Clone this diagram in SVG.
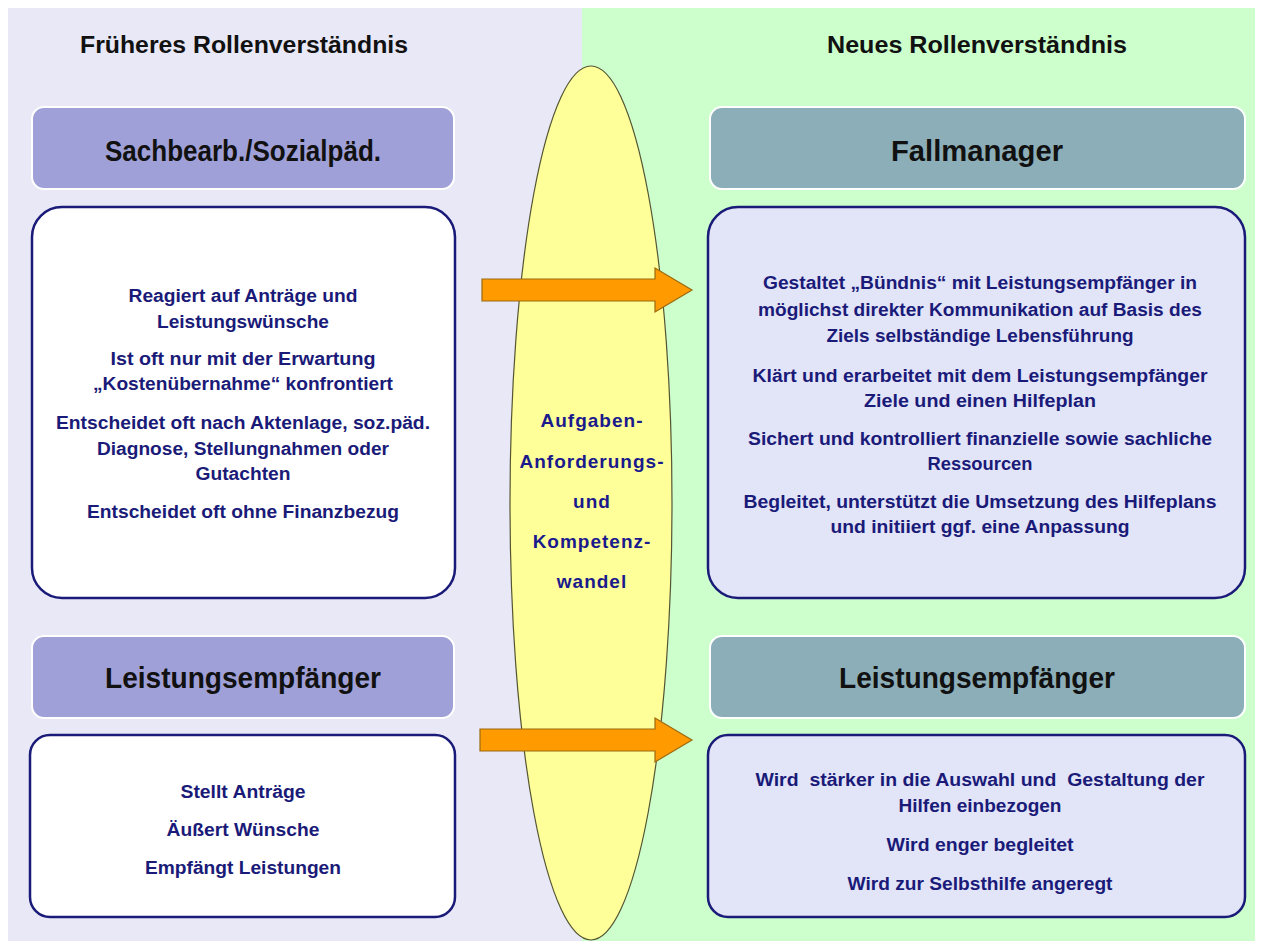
<svg xmlns="http://www.w3.org/2000/svg" width="1262" height="949" viewBox="0 0 1262 949">
<style>
.title{font-family:"Liberation Sans",Arial,sans-serif;font-size:23px;font-weight:bold;fill:#111;text-anchor:middle}
.hdr{font-family:"Liberation Sans",Arial,sans-serif;font-size:30px;font-weight:bold;fill:#111;text-anchor:middle}
.txt{font-family:"Liberation Sans",Arial,sans-serif;font-size:18px;font-weight:bold;fill:#1a1a78;text-anchor:middle}
.mid{font-family:"Liberation Sans",Arial,sans-serif;font-size:19px;font-weight:bold;fill:#1a1a8c;text-anchor:middle;letter-spacing:1px}
.hL{fill:#a0a0d8;stroke:#ffffff;stroke-width:2}
.hR{fill:#8caeb8;stroke:#ffffff;stroke-width:2}
.cL{fill:#ffffff;stroke:#1a1a78;stroke-width:2.5}
.cR{fill:#e2e4f8;stroke:#1a1a78;stroke-width:2.5}
.arrow{fill:#ff9a00;stroke:#9a6a10;stroke-width:1.2}
</style>
<rect x="0" y="0" width="1262" height="949" fill="#ffffff"/>
<rect x="8" y="8" width="574" height="933" fill="#e8e8f6"/>
<rect x="582" y="8" width="673" height="933" fill="#ccffcc"/>
<text class="title" x="244" y="53" textLength="328" lengthAdjust="spacingAndGlyphs">Früheres Rollenverständnis</text>
<text class="title" x="977" y="53" textLength="300" lengthAdjust="spacingAndGlyphs">Neues Rollenverständnis</text>
<g id="ellipse">
<ellipse cx="591" cy="503" rx="81" ry="437" fill="#ffff99" stroke="#555533" stroke-width="1.2"/>
<text class="mid" x="592" y="427">Aufgaben-</text>
<text class="mid" x="592" y="468">Anforderungs-</text>
<text class="mid" x="592" y="508">und</text>
<text class="mid" x="592" y="548">Kompetenz-</text>
<text class="mid" x="592" y="588">wandel</text>
</g>
<g id="connectors">
<path class="arrow" d="M482,279 L655,279 L655,268 L692,290 L655,312 L655,301 L482,301 Z"/>
<path class="arrow" d="M480,729 L655,729 L655,718 L692,740 L655,762 L655,751 L480,751 Z"/>
</g>
<g id="hdr-sach">
<rect class="hL" x="32" y="107" width="422" height="82" rx="12"/>
<text class="hdr" x="243" y="161" textLength="276" lengthAdjust="spacingAndGlyphs">Sachbearb./Sozialpäd.</text>
</g>
<g id="box-sach">
<rect class="cL" x="32" y="207" width="423" height="391" rx="30"/>
<text class="txt" x="243" y="302" textLength="229" lengthAdjust="spacingAndGlyphs">Reagiert auf Anträge und</text>
<text class="txt" x="243" y="328" textLength="172" lengthAdjust="spacingAndGlyphs">Leistungswünsche</text>
<text class="txt" x="243" y="365" textLength="265" lengthAdjust="spacingAndGlyphs">Ist oft nur mit der Erwartung</text>
<text class="txt" x="243" y="390" textLength="300" lengthAdjust="spacingAndGlyphs">„Kostenübernahme“ konfrontiert</text>
<text class="txt" x="243" y="429" textLength="374" lengthAdjust="spacingAndGlyphs">Entscheidet oft nach Aktenlage, soz.päd.</text>
<text class="txt" x="243" y="455" textLength="292" lengthAdjust="spacingAndGlyphs">Diagnose, Stellungnahmen oder</text>
<text class="txt" x="243" y="480" textLength="95" lengthAdjust="spacingAndGlyphs">Gutachten</text>
<text class="txt" x="243" y="518" textLength="312" lengthAdjust="spacingAndGlyphs">Entscheidet oft ohne Finanzbezug</text>
</g>
<g id="hdr-le-alt">
<rect class="hL" x="32" y="636" width="422" height="82" rx="12"/>
<text class="hdr" x="243" y="688" textLength="276" lengthAdjust="spacingAndGlyphs">Leistungsempfänger</text>
</g>
<g id="box-le-alt">
<rect class="cL" x="30" y="735" width="425" height="182" rx="20"/>
<text class="txt" x="243" y="798" textLength="125" lengthAdjust="spacingAndGlyphs">Stellt Anträge</text>
<text class="txt" x="243" y="836" textLength="153" lengthAdjust="spacingAndGlyphs">Äußert Wünsche</text>
<text class="txt" x="243" y="874" textLength="196" lengthAdjust="spacingAndGlyphs">Empfängt Leistungen</text>
</g>
<g id="hdr-fall">
<rect class="hR" x="710" y="107" width="535" height="82" rx="12"/>
<text class="hdr" x="977" y="161" textLength="172" lengthAdjust="spacingAndGlyphs">Fallmanager</text>
</g>
<g id="box-fall">
<rect class="cR" x="708" y="207" width="537" height="391" rx="30"/>
<text class="txt" x="980" y="289" textLength="434" lengthAdjust="spacingAndGlyphs">Gestaltet „Bündnis“ mit Leistungsempfänger in</text>
<text class="txt" x="980" y="316" textLength="444" lengthAdjust="spacingAndGlyphs">möglichst direkter Kommunikation auf Basis des</text>
<text class="txt" x="980" y="342" textLength="307" lengthAdjust="spacingAndGlyphs">Ziels selbständige Lebensführung</text>
<text class="txt" x="980" y="382" textLength="455" lengthAdjust="spacingAndGlyphs">Klärt und erarbeitet mit dem Leistungsempfänger</text>
<text class="txt" x="980" y="407" textLength="232" lengthAdjust="spacingAndGlyphs">Ziele und einen Hilfeplan</text>
<text class="txt" x="980" y="445" textLength="464" lengthAdjust="spacingAndGlyphs">Sichert und kontrolliert finanzielle sowie sachliche</text>
<text class="txt" x="980" y="470" textLength="105" lengthAdjust="spacingAndGlyphs">Ressourcen</text>
<text class="txt" x="980" y="508" textLength="473" lengthAdjust="spacingAndGlyphs">Begleitet, unterstützt die Umsetzung des Hilfeplans</text>
<text class="txt" x="980" y="533" textLength="299" lengthAdjust="spacingAndGlyphs">und initiiert ggf.  eine Anpassung</text>
</g>
<g id="hdr-le-neu">
<rect class="hR" x="710" y="636" width="535" height="82" rx="12"/>
<text class="hdr" x="977" y="688" textLength="276" lengthAdjust="spacingAndGlyphs">Leistungsempfänger</text>
</g>
<g id="box-le-neu">
<rect class="cR" x="708" y="735" width="537" height="182" rx="20"/>
<text class="txt" x="980" y="786" xml:space="preserve" textLength="449" lengthAdjust="spacingAndGlyphs">Wird  stärker in die Auswahl und  Gestaltung der</text>
<text class="txt" x="980" y="812" textLength="163" lengthAdjust="spacingAndGlyphs">Hilfen einbezogen</text>
<text class="txt" x="980" y="851" textLength="187" lengthAdjust="spacingAndGlyphs">Wird enger begleitet</text>
<text class="txt" x="980" y="890" textLength="265" lengthAdjust="spacingAndGlyphs">Wird zur Selbsthilfe angeregt</text>
</g>
</svg>
